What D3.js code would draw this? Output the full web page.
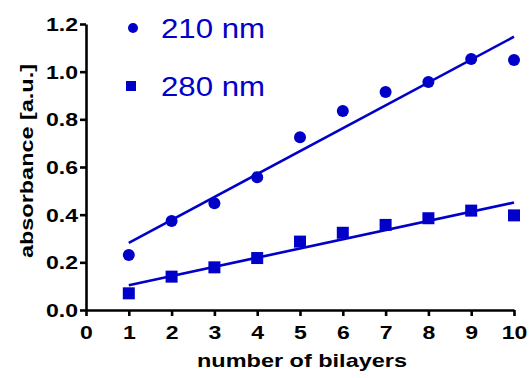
<!DOCTYPE html>
<html>
<head>
<meta charset="utf-8">
<script src="https://cdn.jsdelivr.net/npm/d3@7"></script>
<style>
  body { margin: 0; background: #fff; }
  svg { display: block; font-family: Arial, "Liberation Sans", sans-serif; }
</style>
</head>
<body>
<svg width="529" height="378"></svg>
<script>
// data
var bilayers = [1, 2, 3, 4, 5, 6, 7, 8, 9, 10];
var abs210 = [0.231, 0.373, 0.448, 0.557, 0.725, 0.835, 0.915, 0.957, 1.053, 1.049];
var abs280 = [0.070, 0.140, 0.179, 0.218, 0.287, 0.324, 0.357, 0.385, 0.417, 0.397];
var xTicks = [0, 1, 2, 3, 4, 5, 6, 7, 8, 9, 10];
var yTicks = [0, 0.2, 0.4, 0.6, 0.8, 1.0, 1.2];
var seriesNames = ['210 nm', '280 nm'];

var blue = '#0000c8';
var svg = d3.select('svg');

var x = d3.scaleLinear().domain([0, 10]).range([86, 514]);
var y = d3.scaleLinear().domain([0, 1.2]).range([310, 24]);

// least squares fit
function fit(xs, ys) {
  var mx = d3.mean(xs), my = d3.mean(ys);
  var num = d3.sum(xs, (v, i) => (v - mx) * (ys[i] - my));
  var den = d3.sum(xs, v => (v - mx) * (v - mx));
  var b = num / den;
  return { a: my - b * mx, b: b };
}

// the original font is wider than Arial, so stretch a bit
var stretch = 1.28;

// axes
var xAxis = svg.append('g')
  .attr('transform', 'translate(0,' + y(0) + ')')
  .call(d3.axisBottom(x).tickValues(xTicks).tickFormat(d3.format('d')).tickSize(6).tickSizeOuter(0));
var yAxis = svg.append('g')
  .attr('transform', 'translate(' + x(0) + ',0)')
  .call(d3.axisLeft(y).tickValues(yTicks).tickFormat(d3.format('.1f')).tickSize(6).tickSizeOuter(0));

[xAxis, yAxis].forEach(function (ax) {
  ax.select('.domain').attr('stroke', '#000').attr('stroke-width', 2.6);
  ax.selectAll('.tick line').attr('stroke', '#000').attr('stroke-width', 2.6);
  ax.selectAll('.tick text')
    .attr('fill', '#000')
    .attr('font-size', '18px')
    .attr('font-weight', 'bold')
    .attr('font-family', 'Arial, "Liberation Sans", sans-serif')
    .attr('transform', 'scale(' + stretch + ',1)');
});
xAxis.selectAll('.tick text').attr('y', 16);
yAxis.selectAll('.tick text').attr('x', -8 / stretch).attr('dy', '0.36em');

// axis titles
svg.append('text')
  .attr('x', 197).attr('y', 367)
  .attr('font-size', '19px').attr('font-weight', 'bold')
  .attr('textLength', 210).attr('lengthAdjust', 'spacingAndGlyphs')
  .text('number of bilayers');
svg.append('text')
  .attr('transform', 'translate(33,258) rotate(-90)')
  .attr('font-size', '18px').attr('font-weight', 'bold')
  .attr('textLength', 194).attr('lengthAdjust', 'spacingAndGlyphs')
  .text('absorbance [a.u.]');

// fit lines
[abs210, abs280].forEach(function (ys) {
  var f = fit(bilayers, ys);
  svg.append('line')
    .attr('x1', x(1)).attr('y1', y(f.a + f.b * 1))
    .attr('x2', x(10)).attr('y2', y(f.a + f.b * 10))
    .attr('stroke', blue).attr('stroke-width', 2.6);
});

// markers
svg.selectAll('circle.pt')
  .data(abs210)
  .enter()
  .append('circle')
  .classed('pt', true)
  .attr('cx', (d, i) => x(bilayers[i]))
  .attr('cy', d => y(d))
  .attr('r', 6)
  .attr('fill', blue);

svg.selectAll('rect.pt')
  .data(abs280)
  .enter()
  .append('rect')
  .classed('pt', true)
  .attr('x', (d, i) => x(bilayers[i]) - 6)
  .attr('y', d => y(d) - 6)
  .attr('width', 12)
  .attr('height', 12)
  .attr('fill', blue);

// legend
svg.append('circle').attr('cx', 133).attr('cy', 28).attr('r', 5).attr('fill', blue);
svg.append('rect').attr('x', 126).attr('y', 81).attr('width', 10).attr('height', 10).attr('fill', blue);
svg.selectAll('text.legend')
  .data(seriesNames)
  .enter()
  .append('text')
  .classed('legend', true)
  .attr('x', 161)
  .attr('y', (d, i) => 38 + i * 58)
  .attr('font-size', '28px')
  .attr('fill', blue)
  .attr('textLength', 104).attr('lengthAdjust', 'spacingAndGlyphs')
  .text(d => d);
</script>
</body>
</html>
